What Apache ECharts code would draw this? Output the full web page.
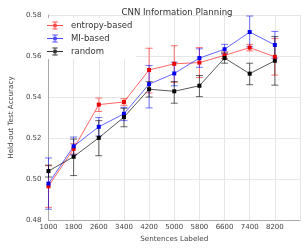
<!DOCTYPE html>
<html>
<head>
<meta charset="utf-8">
<script src="https://cdn.jsdelivr.net/npm/echarts@6/dist/echarts.min.js"></script>
<style>
  html, body { margin: 0; padding: 0; background: #fff; }
  #main { width: 303px; height: 248px; }
</style>
</head>
<body>
<div id="main"></div>
<script>
// sentences labeled
var sentences = [1000, 1800, 2600, 3400, 4200, 5000, 5800, 6600, 7400, 8200];

// entropy-based
var entropyMean = [0.4965, 0.5148, 0.5363, 0.5376, 0.5532, 0.5562, 0.5568, 0.5603, 0.5641, 0.5596];
var entropyLow  = [0.4862, 0.5122, 0.5330, 0.5360, 0.5420, 0.5472, 0.5495, 0.5588, 0.5625, 0.5507];
var entropyHigh = [0.5065, 0.5172, 0.5395, 0.5392, 0.5638, 0.5650, 0.5641, 0.5620, 0.5657, 0.5685];

// MI-based
var miMean = [0.4978, 0.5160, 0.5255, 0.5318, 0.5463, 0.5515, 0.5590, 0.5633, 0.5717, 0.5654];
var miLow  = [0.4853, 0.5118, 0.5210, 0.5285, 0.5347, 0.5455, 0.5545, 0.5610, 0.5645, 0.5590];
var miHigh = [0.5103, 0.5205, 0.5300, 0.5350, 0.5554, 0.5570, 0.5635, 0.5657, 0.5795, 0.5720];

// random
var randMean = [0.5039, 0.5109, 0.5201, 0.5302, 0.5438, 0.5428, 0.5455, 0.5590, 0.5514, 0.5577];
var randLow  = [0.5010, 0.5017, 0.5114, 0.5255, 0.5400, 0.5370, 0.5402, 0.5565, 0.5460, 0.5458];
var randHigh = [0.5068, 0.5195, 0.5285, 0.5345, 0.5475, 0.5475, 0.5505, 0.5615, 0.5565, 0.5695];

var yTicks = [0.48, 0.50, 0.52, 0.54, 0.56, 0.58];

var FONT = "DejaVu Sans";

function pairs(xs, ys) {
  return xs.map(function (x, i) { return [x, ys[i]]; });
}
function triples(xs, lo, hi) {
  return xs.map(function (x, i) { return [x, lo[i], hi[i]]; });
}

function errorBars(name, color, lo, hi) {
  return {
    name: name,
    type: "custom",
    data: triples(sentences, lo, hi),
    encode: { x: 0, y: [1, 2] },
    z: 3,
    silent: true,
    renderItem: function (params, api) {
      var top = api.coord([api.value(0), api.value(2)]);
      var bot = api.coord([api.value(0), api.value(1)]);
      var cap = 3.5;
      var st = { stroke: color, lineWidth: 1 };
      return {
        type: "group",
        children: [
          { type: "line", shape: { x1: top[0], y1: top[1], x2: bot[0], y2: bot[1] }, style: st },
          { type: "line", shape: { x1: top[0] - cap, y1: top[1], x2: top[0] + cap, y2: top[1] }, style: st },
          { type: "line", shape: { x1: bot[0] - cap, y1: bot[1], x2: bot[0] + cap, y2: bot[1] }, style: st }
        ]
      };
    }
  };
}

function meanLine(name, lineColor, dotColor, vals) {
  return {
    name: name,
    type: "line",
    data: pairs(sentences, vals),
    symbol: "rect",
    symbolSize: 4,
    showSymbol: true,
    z: 4,
    itemStyle: { color: dotColor },
    lineStyle: { color: lineColor, width: 1 },
    emphasis: { disabled: true }
  };
}

// line + errorbar + square marker
var legendIcon = "path://M0,8h36v2H0z M17,0h2v18h-2z M12,0h12v2H12z M12,16h12v2H12z M14,5h8v8h-8z";

var myChart = echarts.init(document.getElementById("main"));

myChart.setOption({
  animation: false,
  backgroundColor: "#fff",
  title: {
    text: "CNN Information Planning",
    left: 172,
    textAlign: "center",
    top: 3,
    textStyle: { fontFamily: FONT, fontSize: 8.6, fontWeight: "normal", color: "#333" }
  },
  legend: {
    orient: "vertical",
    left: 42,
    top: 18,
    padding: [3, 4, 3, 5],
    itemGap: 4,
    itemWidth: 16,
    itemHeight: 9,
    backgroundColor: "#fff",
    textStyle: { fontFamily: FONT, fontSize: 8.5, color: "#333", padding: [0, 0, 0, 3] },
    data: [
      { name: "entropy-based", icon: legendIcon, itemStyle: { color: "#ff4d4d" } },
      { name: "MI-based", icon: legendIcon, itemStyle: { color: "#4d4dff" } },
      { name: "random", icon: legendIcon, itemStyle: { color: "#333" } }
    ]
  },
  grid: { left: 40, right: -3, top: 15, bottom: 27, containLabel: false },
  xAxis: {
    type: "value",
    min: 1000,
    max: 9000,
    interval: 800,
    name: "Sentences Labeled",
    nameLocation: "middle",
    nameGap: 15,
    nameTextStyle: { fontFamily: FONT, fontSize: 7.2, color: "#444" },
    axisLine: { show: true, lineStyle: { color: "#aaa", width: 1 } },
    axisTick: { show: false },
    axisLabel: {
      fontFamily: FONT, fontSize: 7, color: "#444", margin: 4,
      formatter: function (v) { return v > 8200 ? "" : String(v); }
    },
    splitLine: { show: true, lineStyle: { color: "#e6e6e6", width: 1 } }
  },
  yAxis: {
    type: "value",
    min: yTicks[0],
    max: yTicks[yTicks.length - 1],
    interval: 0.02,
    name: "Held-out Test Accuracy",
    nameLocation: "middle",
    nameGap: 27,
    nameTextStyle: { fontFamily: FONT, fontSize: 7.2, color: "#444" },
    axisLine: { show: true, lineStyle: { color: "#aaa", width: 1 } },
    axisTick: { show: false },
    axisLabel: {
      fontFamily: FONT, fontSize: 7, color: "#444", margin: 7,
      formatter: function (v) { return v.toFixed(2); }
    },
    splitLine: { show: true, lineStyle: { color: "#e6e6e6", width: 1 } }
  },
  series: [
    errorBars("entropy-based", "rgba(255,0,0,0.55)", entropyLow, entropyHigh),
    meanLine("entropy-based", "rgba(255,0,0,0.6)", "#e60000", entropyMean),
    errorBars("MI-based", "rgba(0,0,255,0.55)", miLow, miHigh),
    meanLine("MI-based", "rgba(0,0,255,0.6)", "#0000ee", miMean),
    errorBars("random", "rgba(0,0,0,0.6)", randLow, randHigh),
    meanLine("random", "rgba(0,0,0,0.65)", "#000", randMean)
  ]
});
</script>
</body>
</html>
